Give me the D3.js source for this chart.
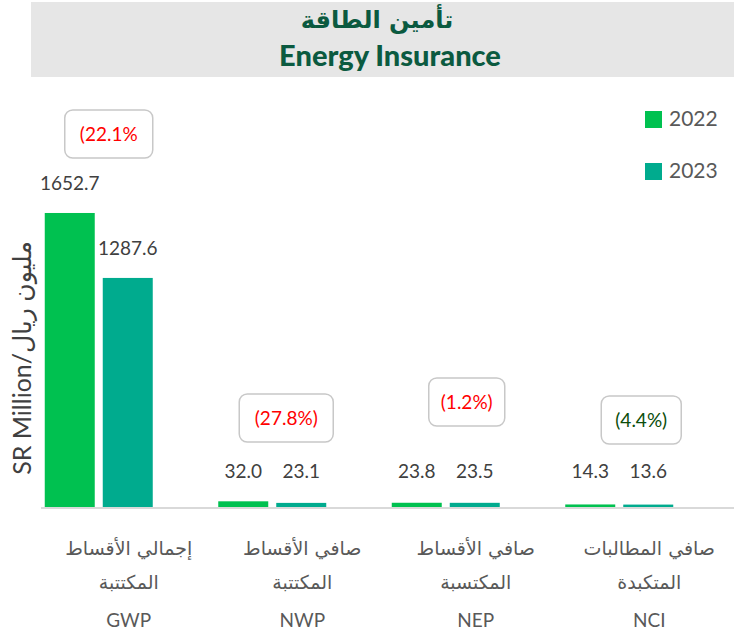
<!DOCTYPE html>
<html>
<head>
<meta charset="utf-8">
<script src="https://cdn.jsdelivr.net/npm/d3@7"></script>
<style>
  body { margin: 0; background: #fff; }
  svg { display: block; font-family: Lato, "DejaVu Sans", sans-serif; }
</style>
</head>
<body>
<div id="chart"></div>
<script>
// data
var categories = ["GWP", "NWP", "NEP", "NCI"];
var arabicLine1 = ["إجمالي الأقساط", "صافي الأقساط", "صافي الأقساط", "صافي المطالبات"];
var arabicLine2 = ["المكتتبة", "المكتتبة", "المكتسبة", "المتكبدة"];
var years = ["2022", "2023"];
var values2022 = [1652.7, 32.0, 23.8, 14.3];
var values2023 = [1287.6, 23.1, 23.5, 13.6];
var changeLabels = ["(22.1%", "(27.8%)", "(1.2%)", "(4.4%)"];
var changeColors = ["#ff0000", "#ff0000", "#ff0000", "#0b4d0b"];

var width = 734,
	height = 633;

var colors = d3.scaleOrdinal()
	.domain(years)
	.range(["#00c150", "#00ab8e"]);

var margin = {left: 41, right: 0, top: 150, bottom: 126};
var baseY = height - margin.bottom; // 507

var xScale = d3.scaleBand()
	.domain(categories)
	.range([12, 706])
	.paddingInner(0)
	.paddingOuter(0);

// two bars of ~50px with an 8px gap
var xInner = d3.scaleBand()
	.domain(years)
	.range([0, 108])
	.paddingInner(0.138)
	.paddingOuter(0);

var yScale = d3.scaleLinear()
	.domain([0, 2000])
	.range([baseY, baseY - 355.8]);

var svg = d3.select("#chart").append("svg")
	.attr("width", width)
	.attr("height", height);

// title band
svg.append("rect")
	.attr("x", 31).attr("y", 2)
	.attr("width", width - 31).attr("height", 75)
	.style("fill", "#e6e6e6");

svg.append("text")
	.attr("x", 377).attr("y", 28)
	.attr("text-anchor", "middle")
	.style("font-family", "'DejaVu Sans', sans-serif")
	.style("font-weight", "bold")
	.style("font-size", "24px")
	.style("fill", "#0b5a40")
	.text("تأمين الطاقة");

svg.append("text")
	.attr("x", 390).attr("y", 66)
	.attr("text-anchor", "middle")
	.style("font-weight", "900")
	.style("font-size", "29px")
	.style("fill", "#0b5a40")
	.text("Energy Insurance");

// rows for each category
var rows = categories.map(function(c, i){
	return {cat: c, vals: [values2022[i], values2023[i]], i: i};
});

var groups = svg.selectAll(".grp").data(rows)
	.enter().append("g")
		.attr("class", "grp")
		.attr("transform", function(d){
			var cx = xScale(d.cat) + xScale.bandwidth() / 2;
			return "translate(" + (cx - 54) + ",0)";
		});

groups.selectAll("rect").data(function(d){
		return years.map(function(y, k){ return {year: y, v: d.vals[k]}; });
	})
	.enter().append("rect")
		.attr("x", function(d){ return xInner(d.year); })
		.attr("width", xInner.bandwidth())
		.attr("y", function(d){ return yScale(d.v); })
		.attr("height", function(d){ return baseY - yScale(d.v); })
		.style("fill", function(d){ return colors(d.year); });

groups.selectAll(".val").data(function(d){
		return years.map(function(y, k){ return {year: y, v: d.vals[k]}; });
	})
	.enter().append("text")
		.attr("class", "val")
		.attr("x", function(d){ return xInner(d.year) + xInner.bandwidth() / 2; })
		.attr("y", function(d){ return Math.min(yScale(d.v), baseY - 6) - 23; })
		.attr("text-anchor", "middle")
		.style("font-size", "19px")
		.style("fill", "#404040")
		.text(function(d){ return d.v.toFixed(1); });

// change call-out boxes (layout offsets from the group centre)
var boxDx = [10, 14, 21, 22];
var boxY = [134, 418, 402, 420];
var boxW = [88, 94, 76, 80];

var boxes = groups.append("g")
	.attr("transform", function(d){
		return "translate(" + (54 + boxDx[d.i]) + "," + boxY[d.i] + ")";
	});

boxes.append("rect")
	.attr("x", function(d){ return -boxW[d.i] / 2; })
	.attr("y", -24)
	.attr("width", function(d){ return boxW[d.i]; })
	.attr("height", 48)
	.attr("rx", 8)
	.style("fill", "#fff")
	.style("stroke", "#c8c8c8")
	.style("stroke-width", 1.5);

boxes.append("text")
	.attr("text-anchor", "middle")
	.attr("dy", "0.35em")
	.style("font-size", "19px")
	.style("fill", function(d){ return changeColors[d.i]; })
	.text(function(d){ return changeLabels[d.i]; });

// category labels
var labels = groups.append("g")
	.attr("transform", "translate(84,0)")
	.style("font-size", "19px")
	.style("fill", "#595959")
	.attr("text-anchor", "middle");

labels.append("text").attr("y", 555)
	.style("font-family", "'DejaVu Sans', sans-serif")
	.style("font-size", "19px")
	.text(function(d){ return arabicLine1[d.i]; });
labels.append("text").attr("y", 589)
	.style("font-family", "'DejaVu Sans', sans-serif")
	.style("font-size", "19px")
	.text(function(d){ return arabicLine2[d.i]; });
labels.append("text").attr("y", 627)
	.text(function(d){ return d.cat; });

// baseline
svg.append("line")
	.attr("x1", margin.left).attr("x2", width)
	.attr("y1", baseY + 1).attr("y2", baseY + 1)
	.style("stroke", "#d9d9d9")
	.style("stroke-width", 2);

// y axis title
svg.append("text")
	.attr("transform", "translate(31,358) rotate(-90)")
	.attr("text-anchor", "middle")
	.style("font-size", "25px")
	.style("fill", "#404040")
	.text("SR Million/مليون ريال");

// legend
var legend = svg.selectAll(".leg").data(years)
	.enter().append("g")
		.attr("class", "leg")
		.attr("transform", function(d, i){ return "translate(645," + (111 + i * 52) + ")"; });

legend.append("rect")
	.attr("width", 17).attr("height", 17)
	.style("fill", function(d){ return colors(d); });

legend.append("text")
	.attr("x", 24).attr("y", 8)
	.attr("dy", "0.35em")
	.style("font-size", "21px")
	.style("fill", "#595959")
	.text(function(d){ return d; });
</script>
</body>
</html>
